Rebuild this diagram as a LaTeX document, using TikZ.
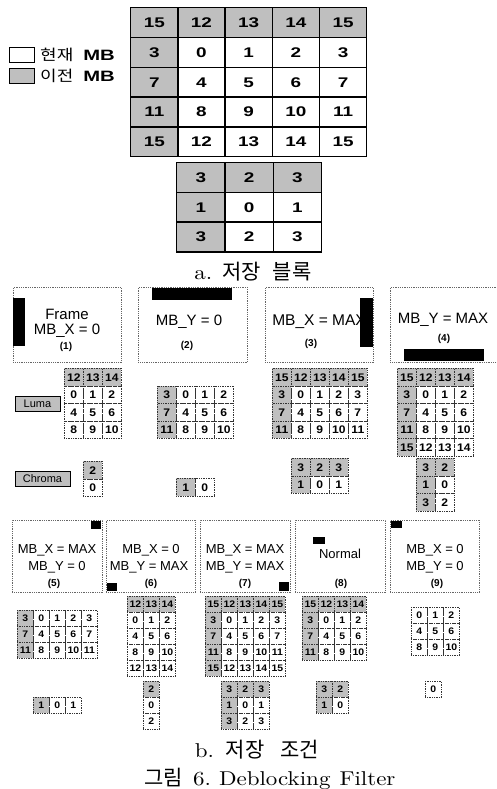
\documentclass[tikz,border=0pt]{standalone}
\usepackage{fontspec}
\newfontfamily\arial{Liberation Sans}
\newfontfamily\wideb[FakeStretch=1.35]{Liberation Sans}
\newfontfamily\narb[FakeStretch=1.1]{Liberation Sans}
\newfontfamily\kr{Noto Sans CJK KR}
\newfontfamily\krw[FakeStretch=1.2]{Noto Sans CJK KR}
\newfontfamily\capser[FakeStretch=1.15]{lmroman10-regular.otf}
\usetikzlibrary{matrix}
\newcommand{\fsz}[1]{\fontsize{#1}{#1}\selectfont}
\tikzset{
  prev/.style={fill=black!25},
  bigm/.style={matrix of nodes, anchor=north west, inner sep=0pt, outer sep=0pt,
    column sep=-1.4pt, row sep=-1.4pt,
    nodes={draw, line width=1.4pt, inner sep=0pt, text height=10pt, text depth=0pt,
      font=\fsz{14}\wideb\bfseries}},
  sga/.style={matrix of nodes, anchor=north west, inner sep=0pt, outer sep=0pt,
    column sep=-0.7pt, row sep=-0.7pt,
    nodes={draw=black!80, densely dotted, line width=0.7pt, minimum width=19pt,
      minimum height=17.5pt, inner sep=0pt, text height=8pt, text depth=0pt,
      font=\fsz{11}\narb\bfseries}},
  sgb/.style={matrix of nodes, anchor=north west, inner sep=0pt, outer sep=0pt,
    column sep=-0.7pt, row sep=-0.7pt,
    nodes={draw=black!80, densely dotted, line width=0.7pt, minimum width=16pt,
      minimum height=16pt, inner sep=0pt, text height=7pt, text depth=0pt,
      font=\fsz{9.5}\narb\bfseries}},
  panelbox/.style={draw=black!60, densely dotted, line width=0.8pt, anchor=north west,
    inner sep=0pt},
  ptxt/.style={font=\fsz{15}\arial, inner sep=0pt},
  ptxtb/.style={font=\fsz{13}\arial, inner sep=0pt},
  plab/.style={font=\fsz{10}\arial\bfseries, inner sep=0pt},
  legbox/.style={draw, line width=0.8pt, minimum width=25pt, minimum height=15pt, inner sep=0pt},
  tagbox/.style={draw, line width=0.7pt, fill=black!25, minimum height=15pt, inner sep=0pt,
    font=\fsz{11}\arial},
  captxt/.style={inner sep=0pt, font=\fsz{20}\capser}
}
\begin{document}
\begin{tikzpicture}[x=1pt,y=-1pt]
\useasboundingbox (0,0) rectangle (496,789);
% ---------- legend ----------
\node[legbox] (lg1) at (21.5,54.5) {};
\node[legbox,prev] (lg2) at (21.5,75.5) {};
\node[anchor=west, inner sep=0pt] (lt1) at (40,55) {\fsz{15}\krw 현재\hspace{10pt}{\wideb\bfseries MB}};
\node[anchor=west, inner sep=0pt] (lt2) at (40,76) {\fsz{15}\krw 이전\hspace{10pt}{\wideb\bfseries MB}};
% ---------- big grid ----------
\matrix (top) [bigm, nodes={minimum width=47.2pt, minimum height=29.8pt}] at (130,7) {
|[prev]| 15 & |[prev]| 12 & |[prev]| 13 & |[prev]| 14 & |[prev]| 15 \\
|[prev]| 3 & 0 & 1 & 2 & 3 \\
|[prev]| 7 & 4 & 5 & 6 & 7 \\
|[prev]| 11 & 8 & 9 & 10 & 11 \\
|[prev]| 15 & 12 & 13 & 14 & 15 \\
};
\matrix (chr) [bigm, nodes={minimum width=48.3pt, minimum height=29.7pt}] at (176,162) {
|[prev]| 3 & |[prev]| 2 & |[prev]| 3 \\
|[prev]| 1 & 0 & 1 \\
|[prev]| 3 & 2 & 3 \\
};
\node[captxt] (capa) at (253,272) {a.\hspace{10pt}{\fsz{21}\kr 저장\hspace{12pt}블록}};
% ---------- row 1 panels ----------
\node[panelbox, minimum width=108pt, minimum height=75pt] (p1) at (13,287) {};
\node[panelbox, minimum width=109pt, minimum height=75pt] (p2) at (138,287) {};
\node[panelbox, minimum width=108pt, minimum height=75pt] (p3) at (265,287) {};
\node[panelbox, minimum width=109pt, minimum height=75pt] (p4) at (390,287) {};
\node[ptxt] (t1a) at (67,314) {Frame};
\node[ptxt] (t1b) at (67,331) {MB\_X = 0};
\node[plab] (l1) at (66,347) {(1)};
\node[ptxt] (t2a) at (189,322) {MB\_Y = 0};
\node[plab] (l2) at (187,346) {(2)};
\node[ptxt, font=\fsz{15.5}\arial] (t3a) at (319,322) {MB\_X = MAX};
\node[plab] (l3) at (311,344) {(3)};
\node[ptxt] (t4a) at (443,320) {MB\_Y = MAX};
\node[plab] (l4) at (444,339) {(4)};
\fill (13,298) rectangle (25,346);
\fill (152,288) rectangle (232,300);
\fill (360,298) rectangle (373,347);
\fill (404,349) rectangle (484,361);
% tags
\node[tagbox, minimum width=45pt] (luma) at (37.5,404) {Luma};
\node[tagbox, minimum width=55pt] (chroma) at (42.5,478.5) {Chroma};
% row 1 luma grids
\matrix (g1) [sga] at (64,368) {
|[prev]| 12 & |[prev]| 13 & |[prev]| 14 \\
0 & 1 & 2 \\
4 & 5 & 6 \\
8 & 9 & 10 \\
};
\matrix (g2) [sga] at (157,385.5) {
|[prev]| 3 & 0 & 1 & 2 \\
|[prev]| 7 & 4 & 5 & 6 \\
|[prev]| 11 & 8 & 9 & 10 \\
};
\matrix (g3) [sga] at (272,368) {
|[prev]| 15 & |[prev]| 12 & |[prev]| 13 & |[prev]| 14 & |[prev]| 15 \\
|[prev]| 3 & 0 & 1 & 2 & 3 \\
|[prev]| 7 & 4 & 5 & 6 & 7 \\
|[prev]| 11 & 8 & 9 & 10 & 11 \\
};
\matrix (g4) [sga] at (397,368) {
|[prev]| 15 & |[prev]| 12 & |[prev]| 13 & |[prev]| 14 \\
|[prev]| 3 & 0 & 1 & 2 \\
|[prev]| 7 & 4 & 5 & 6 \\
|[prev]| 11 & 8 & 9 & 10 \\
|[prev]| 15 & 12 & 13 & 14 \\
};
% row 1 chroma grids
\matrix (c1) [sga] at (83,461) {
|[prev]| 2 \\
0 \\
};
\matrix (c2) [sga] at (176,478) {
|[prev]| 1 & 0 \\
};
\matrix (c3) [sga] at (291,458) {
|[prev]| 3 & |[prev]| 2 & |[prev]| 3 \\
|[prev]| 1 & 0 & 1 \\
};
\matrix (c4) [sga] at (416,458) {
|[prev]| 3 & |[prev]| 2 \\
|[prev]| 1 & 0 \\
|[prev]| 3 & 2 \\
};
% ---------- row 2 panels ----------
\node[panelbox, minimum width=90pt, minimum height=72pt] (p5) at (12,520) {};
\node[panelbox, minimum width=89pt, minimum height=72pt] (p6) at (106,520) {};
\node[panelbox, minimum width=90pt, minimum height=72pt] (p7) at (200,520) {};
\node[panelbox, minimum width=90pt, minimum height=72pt] (p8) at (295,520) {};
\node[panelbox, minimum width=89pt, minimum height=72pt] (p9) at (390,520) {};
\node[ptxtb] (t5a) at (57,550) {MB\_X = MAX};
\node[ptxtb] (t5b) at (57,567) {MB\_Y = 0};
\node[plab] (l5) at (54,584) {(5)};
\node[ptxtb] (t6a) at (151,550) {MB\_X = 0};
\node[ptxtb] (t6b) at (149,567) {MB\_Y = MAX};
\node[plab] (l6) at (151,584) {(6)};
\node[ptxtb] (t7a) at (245,550) {MB\_X = MAX};
\node[ptxtb] (t7b) at (245,567) {MB\_Y = MAX};
\node[plab] (l7) at (245,584) {(7)};
\node[ptxtb] (t8a) at (340,554) {Normal};
\node[plab] (l8) at (341,584) {(8)};
\node[ptxtb] (t9a) at (435,550) {MB\_X = 0};
\node[ptxtb] (t9b) at (435,567) {MB\_Y = 0};
\node[plab] (l9) at (437,584) {(9)};
\fill (91,521) rectangle (101,529);
\fill (107,583) rectangle (117,591);
\fill (279,582) rectangle (289,591);
\fill (313,537) rectangle (325,544);
\fill (391,521) rectangle (402,528);
% row 2 luma grids
\matrix (g5) [sgb] at (17,610) {
|[prev]| 3 & 0 & 1 & 2 & 3 \\
|[prev]| 7 & 4 & 5 & 6 & 7 \\
|[prev]| 11 & 8 & 9 & 10 & 11 \\
};
\matrix (g6) [sgb] at (127,596) {
|[prev]| 12 & |[prev]| 13 & |[prev]| 14 \\
0 & 1 & 2 \\
4 & 5 & 6 \\
8 & 9 & 10 \\
12 & 13 & 14 \\
};
\matrix (g7) [sgb] at (205,596) {
|[prev]| 15 & |[prev]| 12 & |[prev]| 13 & |[prev]| 14 & |[prev]| 15 \\
|[prev]| 3 & 0 & 1 & 2 & 3 \\
|[prev]| 7 & 4 & 5 & 6 & 7 \\
|[prev]| 11 & 8 & 9 & 10 & 11 \\
|[prev]| 15 & 12 & 13 & 14 & 15 \\
};
\matrix (g8) [sgb] at (302,596) {
|[prev]| 15 & |[prev]| 12 & |[prev]| 13 & |[prev]| 14 \\
|[prev]| 3 & 0 & 1 & 2 \\
|[prev]| 7 & 4 & 5 & 6 \\
|[prev]| 11 & 8 & 9 & 10 \\
};
\matrix (g9) [sgb] at (411,607) {
0 & 1 & 2 \\
4 & 5 & 6 \\
8 & 9 & 10 \\
};
% row 2 chroma grids
\matrix (c5) [sgb] at (33,697) {
|[prev]| 1 & 0 & 1 \\
};
\matrix (c6) [sgb] at (143,681) {
|[prev]| 2 \\
0 \\
2 \\
};
\matrix (c7) [sgb] at (221,681) {
|[prev]| 3 & |[prev]| 2 & |[prev]| 3 \\
|[prev]| 1 & 0 & 1 \\
|[prev]| 3 & 2 & 3 \\
};
\matrix (c8) [sgb] at (316,681) {
|[prev]| 3 & |[prev]| 2 \\
|[prev]| 1 & 0 \\
};
\matrix (c9) [sgb] at (425,681) {
0 \\
};
% captions
\node[captxt] (capb) at (257,750) {b.\hspace{12pt}{\fsz{21}\kr 저장\hspace{16pt}조건}};
\node[captxt] (capc) at (270,779) {{\fsz{21}\kr 그림}\hspace{10pt}6.\hspace{8pt}Deblocking\hspace{9pt}Filter};
\end{tikzpicture}
\end{document}
